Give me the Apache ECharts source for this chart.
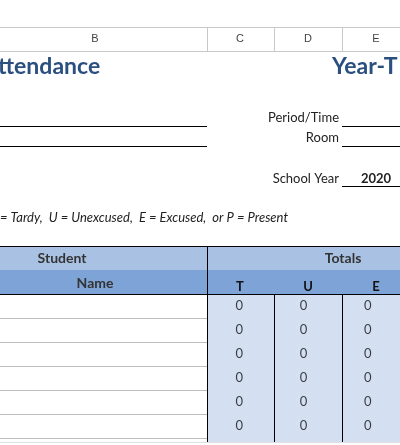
<!DOCTYPE html>
<html><head><meta charset="utf-8">
<script src="https://cdn.jsdelivr.net/npm/echarts@6/dist/echarts.min.js"></script>
<style>html,body{margin:0;padding:0;background:#fff}#c{width:400px;height:445px}</style>
</head><body><div id="c"></div>
<script>
const columns = ['T', 'U', 'E'];
const rows = ['1', '2', '3', '4', '5', '6'];
const totalsT = [0, 0, 0, 0, 0, 0];
const totalsU = [0, 0, 0, 0, 0, 0];
const totalsE = [0, 0, 0, 0, 0, 0];
const colLetters = [['B', 95], ['C', 240], ['D', 308], ['E', 376]];

const F = 'Lato, "Noto Sans", sans-serif';
const data = [];
[totalsT, totalsU, totalsE].forEach((arr, ci) => arr.forEach((v, ri) => data.push([columns[ci], rows[ri], v])));

const g = [];
function line(x1, y1, x2, y2, c, w) { g.push({type:'line', shape:{x1,y1,x2,y2}, style:{stroke:c, lineWidth:w||1}, z:10}); }
function rect(x, y, w, h, c) { g.push({type:'rect', shape:{x,y,width:w,height:h}, style:{fill:c}, z:1}); }
function text(t, x, y, o) { g.push({type:'text', x, y, style:Object.assign({text:t, font:'13px ' + F, fill:'#222', align:'left', verticalAlign:'middle'}, o||{}), z:20}); }

// column header strip
line(0, 27.5, 400, 27.5, '#c8c8c8');
line(0, 51.5, 400, 51.5, '#c8c8c8');
[207, 274, 342].forEach(x => line(x + .5, 28, x + .5, 51, '#c8c8c8'));
colLetters.forEach(([l, x]) => text(l, x, 39, {align:'center', font:'11px Arial, sans-serif', fill:'#444'}));

text('ttendance', -2, 67, {font:'bold 23px ' + F, fill:'#2b4f80'});
text('Year-T', 332, 67, {font:'bold 23px ' + F, fill:'#2b4f80'});

line(0, 126.5, 207, 126.5, '#000');
line(0, 146.5, 207, 146.5, '#000');
text('Period/Time', 339, 118, {align:'right'});
line(342, 126.5, 400, 126.5, '#000');
text('Room', 339, 138, {align:'right'});
line(342, 146.5, 400, 146.5, '#000');
text('School Year', 339, 179, {align:'right'});
line(342, 186.5, 400, 186.5, '#000');
text('2020', 376, 179, {align:'center', font:'bold 13px ' + F});
text('= Tardy,  U = Unexcused,  E = Excused,  or P = Present', 0, 218, {font:'italic 13px ' + F});

// table header
rect(0, 246, 400, 24, '#a9c2e4');
rect(0, 270, 400, 24, '#7ea4d7');
rect(207, 294, 193, 148, '#d4e0f1');
line(0, 246.5, 400, 246.5, '#000');
line(0, 294.5, 400, 294.5, '#000');
line(207.5, 246, 207.5, 442, '#000');
line(274.5, 294, 274.5, 442, '#000');
line(342.5, 294, 342.5, 442, '#000');
[318, 342, 366, 390, 414, 438].forEach(y => line(0, y + .5, 207, y + .5, '#bdbdbd'));
text('Student', 62, 258, {align:'center', font:'bold 14px ' + F, fill:'#333'});
text('Name', 95, 283, {align:'center', font:'bold 14px ' + F, fill:'#333'});
text('Totals', 343, 258, {align:'center', font:'bold 14px ' + F, fill:'#333'});
columns.forEach((c, i) => text(c, [240, 308, 376][i], 287, {align:'center', font:'bold 13px ' + F, fill:'#111'}));
line(0, 442.5, 400, 442.5, '#e0e0e0');

const chart = echarts.init(document.getElementById('c'));
chart.setOption({
  animation:false,
  graphic:g,
  grid:{left:207, top:294, width:204, height:144},
  xAxis:{type:'category', data:columns, show:false},
  yAxis:{type:'category', data:rows, inverse:true, show:false},
  series:[{type:'scatter', data, symbolSize:0, z:30,
    label:{show:true, position:'inside', formatter:p => p.value[2], fontFamily:F, fontSize:13, color:'#111'}}]
});
</script></body></html>
